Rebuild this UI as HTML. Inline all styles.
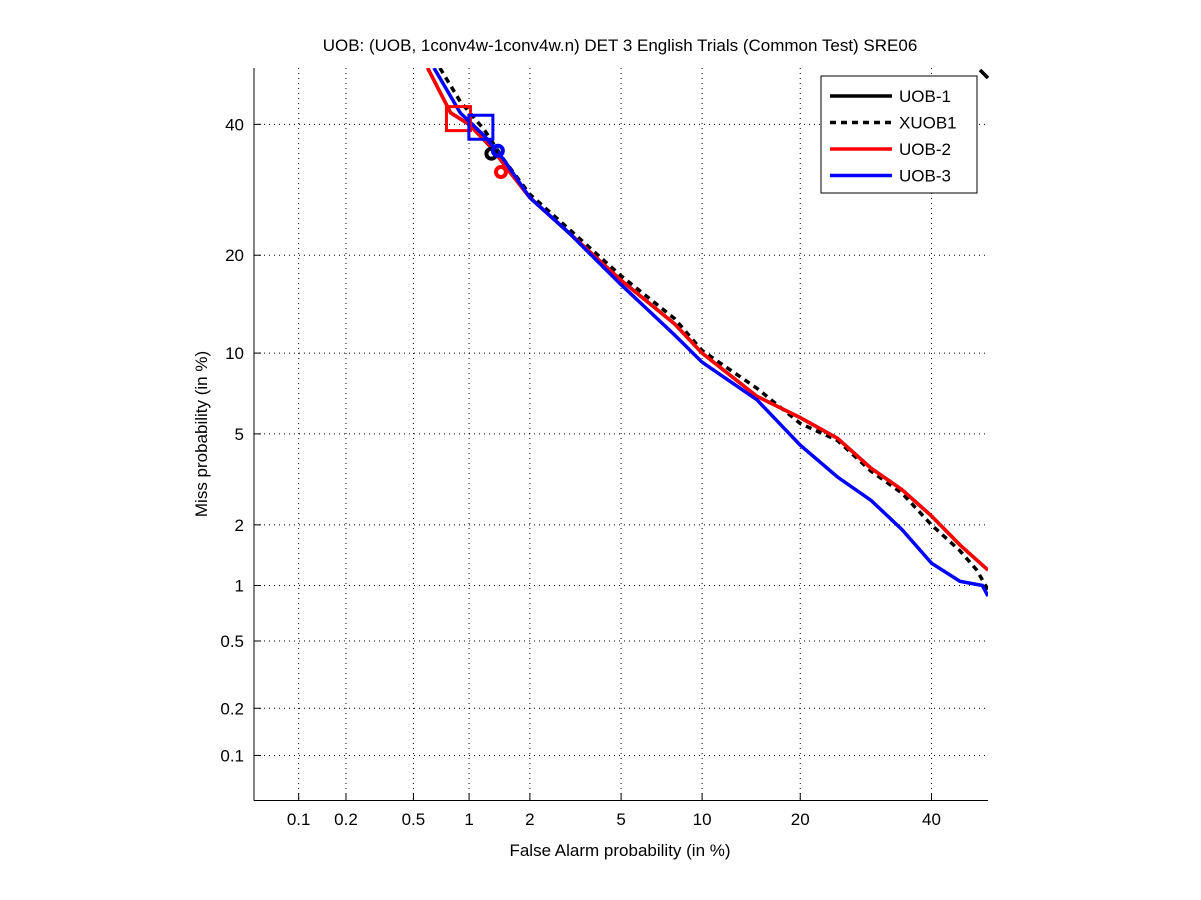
<!DOCTYPE html>
<html><head><meta charset="utf-8">
<style>
body{margin:0;background:#fff;}
svg{display:block;font-family:"Liberation Sans",sans-serif;}
</style></head>
<body>
<svg id="chart" width="1201" height="900" viewBox="0 0 1201 900" xmlns="http://www.w3.org/2000/svg">
<rect x="0" y="0" width="1201" height="900" fill="#fff"/>
<text x="620" y="51" font-size="17" text-anchor="middle">UOB: (UOB, 1conv4w-1conv4w.n) DET 3 English Trials (Common Test) SRE06</text>
<text x="620" y="856" font-size="17" text-anchor="middle">False Alarm probability (in %)</text>
<text transform="translate(207,434) rotate(-90)" font-size="17" text-anchor="middle">Miss probability (in %)</text>
<g id="grid"></g>
<g id="series"></g>
<line x1="254" y1="68" x2="254" y2="800.5" stroke="#000"/>
<line x1="254" y1="800.5" x2="988" y2="800.5" stroke="#000"/>
<g id="legend"></g>
</svg>
<script>
const tickValues = [0.1,0.2,0.5,1,2,5,10,20,40];
const tickLabels = ["0.1","0.2","0.5","1","2","5","10","20","40"];
const uob1FA   = [0.6,0.8,1.0,1.3,1.6,2,3,5,8,10,15,20,25,30,35,40,45,50];
const uob1Miss = [50,42,40,36,32,28,23,17,12.5,10,7,5.8,4.8,3.6,2.9,2.2,1.6,1.2];
const xuob1FA   = [0.7,0.9,1.2,1.5,2,3,5,8,10,15,20,25,30,35,40,45,48,50];
const xuob1Miss = [50,44,39,34,28.5,23.5,17.5,13,10.2,7.5,5.5,4.7,3.5,2.8,2.0,1.5,1.2,0.95];
const uob2FA   = [0.6,0.8,1.0,1.3,1.6,2,3,5,8,10,15,20,25,30,35,40,45,50];
const uob2Miss = [50,42,40,36,32,28,23,17,12.5,10,7,5.8,4.8,3.6,2.9,2.2,1.6,1.2];
const uob3FA   = [0.65,0.9,1.2,1.5,2,3,5,8,10,15,20,25,30,35,40,45,49,50];
const uob3Miss = [50,42,38,34,28,23,16.5,11.5,9.3,6.8,4.5,3.3,2.6,1.9,1.3,1.05,1.0,0.88];
const squareFA   = [0.88,1.15];
const squareMiss = [41,39.5];
const circleFA   = [1.3,1.4,1.45];
const circleMiss = [35,35.5,32];

function probit(p){
  const a=[-39.69683028665376,220.9460984245205,-275.9285104469687,138.3577518672690,-30.66479806614716,2.506628277459239];
  const b=[-54.47609879822406,161.5858368580409,-155.6989798598866,66.80131188771972,-13.28068155288572];
  const c=[-0.007784894002430293,-0.3223964580411365,-2.400758277161838,-2.549732539343734,4.374664141464968,2.938163982698783];
  const d=[0.007784695709041462,0.3224671290700398,2.445134137142996,3.754408661907416];
  const pl=0.02425;let q,r;
  if(p<pl){q=Math.sqrt(-2*Math.log(p));return (((((c[0]*q+c[1])*q+c[2])*q+c[3])*q+c[4])*q+c[5])/((((d[0]*q+d[1])*q+d[2])*q+d[3])*q+1);}
  if(p<=1-pl){q=p-0.5;r=q*q;return (((((a[0]*r+a[1])*r+a[2])*r+a[3])*r+a[4])*r+a[5])*q/(((((b[0]*r+b[1])*r+b[2])*r+b[3])*r+b[4])*r+1);}
  q=Math.sqrt(-2*Math.log(1-p));return -(((((c[0]*q+c[1])*q+c[2])*q+c[3])*q+c[4])*q+c[5])/((((d[0]*q+d[1])*q+d[2])*q+d[3])*q+1);
}
const L=254,R=988,T=68,B=800,lo=probit(0.0005),hi=0;
function xs(pct){return L+(probit(pct/100)-lo)/(hi-lo)*(R-L);}
function ys(pct){return B-(probit(pct/100)-lo)/(hi-lo)*(B-T);}
const NS="http://www.w3.org/2000/svg";
function mk(tag,attrs,parent){const e=document.createElementNS(NS,tag);for(const k in attrs)e.setAttribute(k,attrs[k]);parent.appendChild(e);return e;}
const grid=document.getElementById('grid');
tickValues.forEach((v,i)=>{
  const x=xs(v),y=ys(v);
  const gx=mk('line',{x1:x,x2:x,y1:T,y2:B,stroke:'#000','stroke-dasharray':'1,4','stroke-width':1},grid);
  
  
  const gy=mk('line',{x1:L,x2:R,y1:y,y2:y,stroke:'#000','stroke-dasharray':'1,4','stroke-width':1},grid);
  
  
  mk('line',{x1:x,x2:x,y1:B,y2:B-7,stroke:'#000'},grid);
  mk('line',{x1:L,x2:L+7,y1:y,y2:y,stroke:'#000'},grid);
  const tx=mk('text',{x:x,y:B+25,'font-size':17,'text-anchor':'middle'},grid);
  tx.textContent=tickLabels[i];
  
  
  const ty=mk('text',{x:L-10,y:y+6,'font-size':17,'text-anchor':'end'},grid);
  ty.textContent=tickLabels[i];
  
  
});
const ser=document.getElementById('series');
function path(fa,miss){let d='';for(let i=0;i<fa.length;i++){d+=(i?'L':'M')+xs(fa[i]).toFixed(1)+','+ys(miss[i]).toFixed(1);}return d;}
const cp=mk('clipPath',{id:'clip'},ser);mk('rect',{x:L,y:T,width:R-L,height:B-T},cp);
const series=[
 ['uob1-line',uob1FA,uob1Miss,'#000',''],
 ['xuob1-line',xuob1FA,xuob1Miss,'#000','6,5'],
 ['uob2-line',uob2FA,uob2Miss,'#f00',''],
 ['uob3-line',uob3FA,uob3Miss,'#00f','']
];
series.forEach(s=>{
  const p=mk('path',{d:path(s[1],s[2]),fill:'none',stroke:s[3],'stroke-width':3.5,'stroke-dasharray':s[4],'clip-path':'url(#clip)'},ser);
  
  
});
const corner=mk('line',{x1:980,y1:70,x2:988,y2:78,stroke:'#000','stroke-width':3.5},ser);


const sqCol=['#f00','#00f'];
squareFA.forEach((f,i)=>{
  const x=xs(f),y=ys(squareMiss[i]);
  const r=mk('rect',{x:x-12,y:y-12,width:24,height:24,fill:'none',stroke:sqCol[i],'stroke-width':3},ser);
  
  
});
const ciCol=['#000','#00f','#f00'];
circleFA.forEach((f,i)=>{
  const c=mk('circle',{cx:xs(f),cy:ys(circleMiss[i]),r:5,fill:'none',stroke:ciCol[i],'stroke-width':4},ser);
  
  
});
const lg=document.getElementById('legend');
mk('rect',{x:821,y:76,width:156,height:117,fill:'#fff',stroke:'#000'},lg);
const legNames=['UOB-1','XUOB1','UOB-2','UOB-3'],legCol=['#000','#000','#f00','#00f'],legDash=['','6,5','',''];
legNames.forEach((n,i)=>{
  const y=96+i*26.5;
  const ln=mk('line',{x1:830,x2:892,y1:y,y2:y,stroke:legCol[i],'stroke-width':3.5,'stroke-dasharray':legDash[i]},lg);
  
  
  const t=mk('text',{x:899,y:y+6,'font-size':17},lg);t.textContent=n;
  
  
});
</script>
</body></html>
